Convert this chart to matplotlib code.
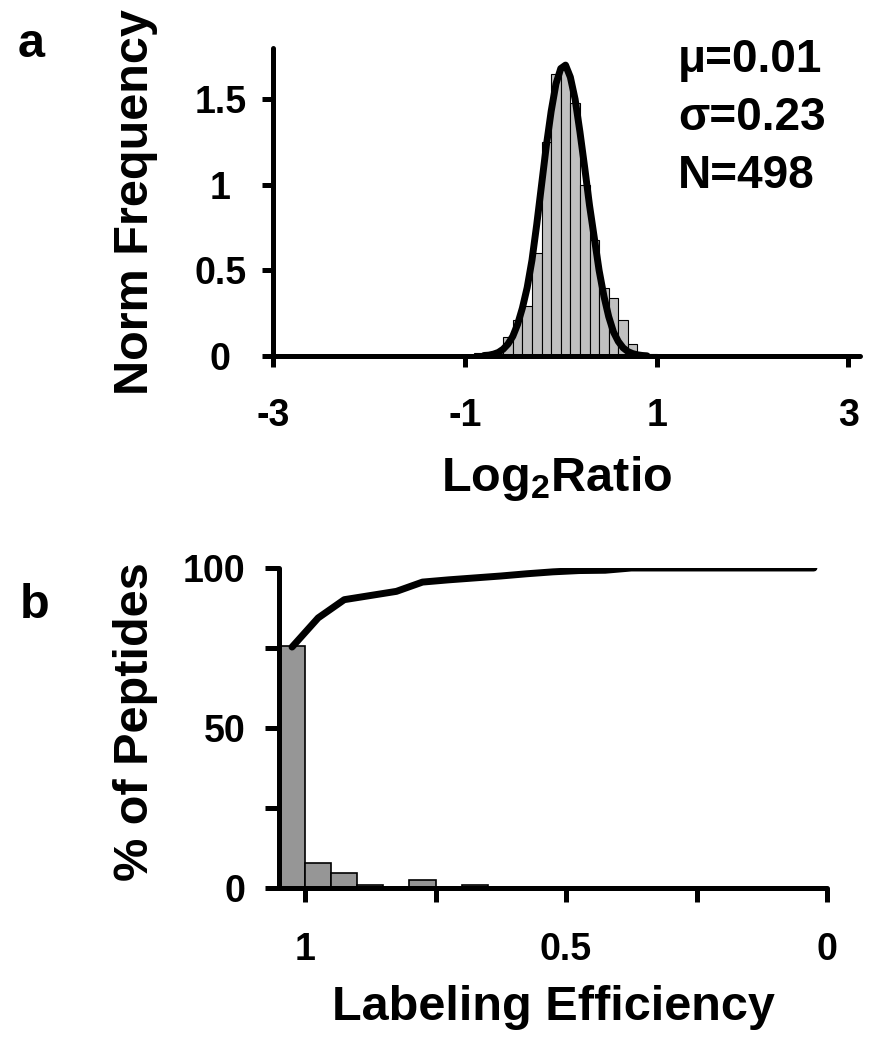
import numpy as np
import matplotlib
matplotlib.use("Agg")
import matplotlib.pyplot as plt

plt.rcParams["font.family"] = ["Liberation Sans", "DejaVu Sans"]
plt.rcParams["font.weight"] = "bold"
plt.rcParams["mathtext.fontset"] = "custom"
plt.rcParams["mathtext.rm"] = "Liberation Sans:bold"
plt.rcParams["mathtext.default"] = "rm"

# panel a: histogram of log2 ratios (bin left edges, width 0.1) + normal fit
ratio_bins = [-0.9, -0.6, -0.5, -0.4, -0.3, -0.2, -0.1, 0.0, 0.1, 0.2,
              0.3, 0.4, 0.5, 0.6, 0.7, 0.8, 0.9]
ratio_freq = [0.02, 0.11, 0.21, 0.29, 0.60, 1.25, 1.65, 1.67, 1.48, 1.00,
              0.68, 0.40, 0.34, 0.21, 0.07, 0.01, 0.01]
fit_x = np.round(np.arange(-0.80, 0.91, 0.05), 2)
fit_y = [0.003, 0.005, 0.011, 0.021, 0.040, 0.070, 0.115, 0.185, 0.28, 0.40,
         0.56, 0.77, 1.00, 1.23, 1.43, 1.59, 1.68, 1.70, 1.63, 1.50,
         1.31, 1.10, 0.88, 0.69, 0.50, 0.35, 0.23, 0.14, 0.085, 0.048,
         0.026, 0.014, 0.007, 0.003, 0.001]
stats = ["\u03bc=0.01", "\u03c3=0.23", "N=498"]

# panel b: labeling efficiency histogram (bin centres, width 0.05) + cumulative
eff_bins = [1.025, 0.975, 0.925, 0.875, 0.825, 0.775, 0.725, 0.675]
eff_pct = [75.5, 7.8, 4.7, 1.0, 0.0, 2.6, 0.0, 0.9]
cum_x = [1.025, 0.975, 0.925, 0.875, 0.825, 0.775, 0.725, 0.675, 0.625,
         0.575, 0.525, 0.475, 0.425, 0.375, 0.325, 0.275, 0.225, 0.175,
         0.125, 0.075, 0.025]
cum_pct = [75.3, 84.4, 90.1, 91.4, 92.7, 95.6, 96.3, 96.9, 97.5, 98.2,
           98.8, 99.2, 99.3, 100, 100, 100, 100, 100, 100, 100, 100]

W, H = 874, 1050
fig = plt.figure(figsize=(W / 100, H / 100), dpi=100)


def style(ax, ticklen):
    for s in ("top", "right"):
        ax.spines[s].set_visible(False)
    for s in ("left", "bottom"):
        ax.spines[s].set_linewidth(3.6)
        ax.spines[s].set_capstyle("round")
    ax.tick_params(direction="out", length=ticklen, width=3.6, labelsize=27)


# ---- panel a
ax1 = fig.add_axes([273 / W, 1 - 356 / H, (860 - 273) / W, (356 - 48) / H])
ax1.bar(ratio_bins, ratio_freq, width=0.1, align="edge", color="#c0c0c0",
        edgecolor="black", linewidth=0.8, zorder=2)
ax1.plot(fit_x, fit_y, color="black", lw=5, solid_capstyle="round", zorder=3)
ax1.set_xlim(-3, 3.12)
ax1.set_ylim(0, 1.8)
style(ax1, 8)
ax1.set_xticks([-3, -1, 1, 3])
ax1.set_xticklabels(["-3", "-1", "1", "3"])
ax1.set_yticks([0, 0.5, 1, 1.5])
ax1.set_yticklabels(["0", "0.5", "1", "1.5"], ha="center")
ax1.tick_params(axis="x", pad=22)
ax1.tick_params(axis="y", pad=30)
for i, s in enumerate(stats):
    fig.text(678 / W, 1 - (72 + 58 * i) / H, s, fontsize=33,
             ha="left", va="baseline")
fig.text(136 / W, 1 - 202 / H, "Norm Frequency", fontsize=35,
         rotation=90, ha="center", va="center")
fig.text(557 / W, 1 - 491 / H, "Log$_2$Ratio", fontsize=35,
         ha="center", va="baseline")
fig.text(18 / W, 1 - 57 / H, "a", fontsize=35, ha="left", va="baseline")

# ---- panel b
ax2 = fig.add_axes([279 / W, 1 - 888 / H, (827 - 279) / W, (888 - 568) / H])
ax2.bar(eff_bins, eff_pct, width=0.05, color="#969696",
        edgecolor="black", linewidth=1.2, zorder=2)
ax2.plot(cum_x, cum_pct, color="black", lw=5, solid_capstyle="round",
         solid_joinstyle="round", zorder=3)
ax2.set_xlim(1.05, 0)
ax2.set_ylim(0, 100)
style(ax2, 10)
ax2.set_xticks([1, 0.75, 0.5, 0.25, 0])
ax2.set_xticklabels(["1", "", "0.5", "", "0"])
ax2.set_yticks([0, 25, 50, 75, 100])
ax2.set_yticklabels(["0", "", "50", "", "100"])
ax2.tick_params(axis="x", pad=22)
ax2.tick_params(axis="y", pad=14)
fig.text(136 / W, 1 - 722 / H, "% of Peptides", fontsize=35,
         rotation=90, ha="center", va="center")
fig.text(553 / W, 1 - 1020 / H, "Labeling Efficiency", fontsize=35,
         ha="center", va="baseline")
fig.text(20 / W, 1 - 618 / H, "b", fontsize=35, ha="left", va="baseline")

fig.savefig("out.png", dpi=100)
